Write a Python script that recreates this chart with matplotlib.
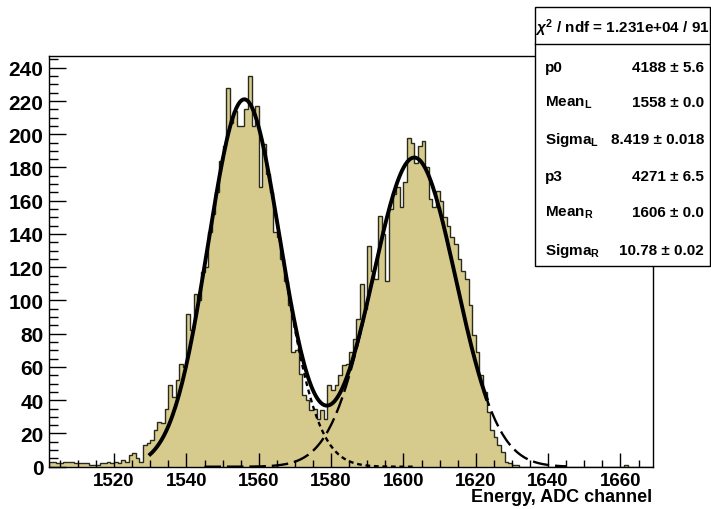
import numpy as np
import matplotlib.pyplot as plt
from matplotlib.patches import Rectangle
from matplotlib.lines import Line2D
from matplotlib.ticker import MultipleLocator

plt.rcParams['font.family'] = ['Liberation Sans', 'DejaVu Sans']
plt.rcParams['font.weight'] = 'bold'
plt.rcParams['mathtext.fontset'] = 'custom'
plt.rcParams['mathtext.rm'] = 'Liberation Sans:bold'
plt.rcParams['mathtext.bf'] = 'Liberation Sans:bold'
plt.rcParams['mathtext.it'] = 'Liberation Sans:bold:italic'

# ADC spectrum, one channel per bin, starting at channel 1502
first_channel = 1502
counts = [
    3, 3, 2, 2, 3, 3, 3, 2, 2, 2,
    2, 1, 1, 1, 2, 2, 3, 2, 3, 2,
    4, 3, 7, 8, 5, 3, 13, 14, 16, 22,
    27, 26, 35, 49, 42, 52, 62, 60, 92, 82,
    104, 100, 117, 120, 141, 152, 165, 184, 193, 228,
    207, 214, 205, 205, 215, 235, 205, 217, 168, 194,
    176, 165, 141, 138, 125, 112, 97, 69, 70, 56,
    43, 40, 34, 35, 29, 34, 29, 49, 46, 49,
    55, 61, 62, 69, 77, 89, 110, 95, 133, 118,
    113, 151, 140, 112, 155, 164, 168, 156, 171, 198,
    195, 183, 193, 196, 180, 161, 156, 166, 160, 150,
    145, 138, 134, 125, 118, 113, 97, 79, 69, 55,
    45, 33, 22, 18, 13, 9, 3, 2, 1, 1,
    0, 0, 0, 0, 0, 0, 0, 0, 0, 0,
    0, 0, 0, 0, 0, 0, 0, 0, 0, 0,
    0, 0, 0, 0, 0, 0, 0, 0, 0, 1,
    0, 0, 0, 0, 0, 0, 0, 0,
]

# gaussian components of the drawn fit: (height, centre, width)
left_peak = (221.0, 1556.0, 10.0)
right_peak = (186.0, 1603.0, 11.5)
fit_range = (1530, 1623)
left_range = (1530, 1603)
right_range = (1545, 1645)

# fit summary shown in the stats box
chi2_text = r'$\chi^{2}$ / ndf = 1.231e+04 / 91'
par_names = ['p0', r'Mean$_{\mathbf{L}}$', r'Sigma$_{\mathbf{L}}$',
             'p3', r'Mean$_{\mathbf{R}}$', r'Sigma$_{\mathbf{R}}$']
par_values = ['4188 ± 5.6', '1558 ± 0.0', '8.419 ± 0.018',
              '4271 ± 6.5', '1606 ± 0.0', '10.78 ± 0.02']

fill_color = '#d6cb8d'
edge_color = '#2a2a1c'


def gaus(x, height, mean, sigma):
    return height * np.exp(-0.5 * ((x - mean) / sigma) ** 2)


fig = plt.figure(figsize=(7.11, 5.10), dpi=100)
ax = fig.add_axes([0.0689, 0.0829, 0.8495, 0.8051])

edges = np.arange(first_channel, first_channel + len(counts) + 1)
ax.stairs(counts, edges, fill=True, color=fill_color, lw=0)
ax.stairs(counts, edges, color=edge_color, lw=1.0)

xl = np.linspace(*left_range, 200)
ax.plot(xl, gaus(xl, *left_peak), color='black', lw=1.7, ls=(0, (2, 1.6)))
xr = np.linspace(*right_range, 200)
ax.plot(xr, gaus(xr, *right_peak), color='black', lw=1.7, ls=(0, (7, 2.5)))
xt = np.linspace(*fit_range, 200)
ax.plot(xt, gaus(xt, *left_peak) + gaus(xt, *right_peak), color='black', lw=2.8)

ax.set_xlim(first_channel, 1669)
ax.set_ylim(0, 247)
ax.xaxis.set_major_locator(MultipleLocator(20))
ax.xaxis.set_minor_locator(MultipleLocator(5))
ax.yaxis.set_major_locator(MultipleLocator(20))
ax.yaxis.set_minor_locator(MultipleLocator(5))
ax.tick_params(which='both', direction='in', top=False, right=False,
               width=1, color='black', pad=4)
ax.tick_params(axis='x', which='major', length=10, labelsize=13.5)
ax.tick_params(axis='x', which='minor', length=5)
ax.tick_params(axis='y', which='major', length=12, labelsize=15)
ax.tick_params(axis='y', which='minor', length=6.5)
for lab in ax.get_xticklabels() + ax.get_yticklabels():
    lab.set_fontweight('bold')
for sp in ax.spines.values():
    sp.set_linewidth(1.0)
    sp.set_color('black')

fig.text(652 / 711, 1 - 498 / 510, 'Energy, ADC channel', ha='right',
         va='center', fontsize=13, fontweight='bold')

# stats box in the top right corner
box_l, box_r = 535 / 711, 710 / 711
box_t, box_b = 1 - 8 / 510, 1 - 267 / 510
fig.add_artist(Rectangle((box_l, box_b), box_r - box_l, box_t - box_b,
                         transform=fig.transFigure, facecolor='white',
                         edgecolor='black', lw=1.0, zorder=5))
sep_y = 1 - 45 / 510
fig.add_artist(Line2D([box_l, box_r], [sep_y, sep_y], transform=fig.transFigure,
                      color='black', lw=1.0, zorder=6))
fig.text((box_l + box_r) / 2, 1 - 28 / 510, chi2_text, ha='center', va='center',
         fontsize=11, fontweight='bold', zorder=7)

row_y = [68, 103, 140, 177, 213, 251]
for name, val, y in zip(par_names, par_values, row_y):
    fig.text(545 / 711, 1 - y / 510, name, ha='left', va='center',
             fontsize=11, fontweight='bold', zorder=7)
    fig.text(704 / 711, 1 - y / 510, val, ha='right', va='center',
             fontsize=11, fontweight='bold', zorder=7)

fig.savefig('out.png', dpi=100)
